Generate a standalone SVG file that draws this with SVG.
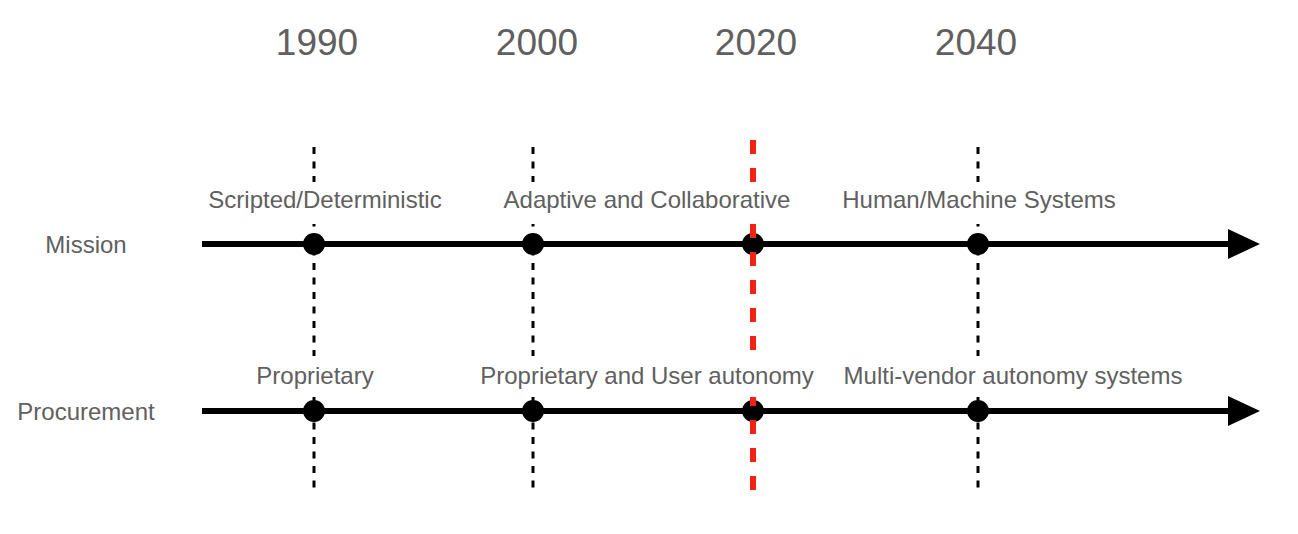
<svg xmlns="http://www.w3.org/2000/svg" width="1298" height="534" viewBox="0 0 1298 534">
  <style>
    .lbl { font-family: "Liberation Sans", Arial, Helvetica, sans-serif; fill: #606060; text-anchor: middle; }
    .year { font-size: 37px; }
    .txt { font-size: 24px; }
    .axis { stroke: #000; stroke-width: 6; fill: none; }
    .vline { stroke: #000; stroke-width: 3; stroke-dasharray: 7 7.5; fill: none; }
    .now { stroke: #f02314; stroke-width: 6; stroke-dasharray: 14 14; fill: none; }
    .dot { fill: #000; }
    .bg { fill: #fff; }
  </style>
  <defs>
    <marker id="arrow" markerUnits="userSpaceOnUse" markerWidth="32" markerHeight="30" refX="4" refY="15" orient="auto">
      <path d="M0,0 L32,15 L0,30 Z" fill="#000"/>
    </marker>
  </defs>
  <rect width="1298" height="534" fill="#fff"/>

  <g id="years">
    <text id="y1990" class="lbl year" x="317" y="55">1990</text>
    <text id="y2000" class="lbl year" x="537" y="55">2000</text>
    <text id="y2020" class="lbl year" x="756" y="55">2020</text>
    <text id="y2040" class="lbl year" x="976" y="55">2040</text>
  </g>

  <g id="row-labels">
    <text id="mission" class="lbl txt" x="86" y="253">Mission</text>
    <text id="procurement" class="lbl txt" x="86" y="420">Procurement</text>
  </g>

  <g id="connectors">
    <line class="axis" x1="202" y1="244" x2="1232" y2="244" marker-end="url(#arrow)"/>
    <line class="axis" x1="202" y1="411" x2="1232" y2="411" marker-end="url(#arrow)"/>
    <line class="vline" x1="314" y1="147" x2="314" y2="490"/>
    <line class="vline" x1="533" y1="147" x2="533" y2="490"/>
    <line class="vline" x1="978" y1="147" x2="978" y2="490"/>
  </g>

  <g id="milestones">
    <circle id="m-1990" class="dot" cx="314" cy="244" r="11"/>
    <circle id="m-2000" class="dot" cx="533" cy="244" r="11"/>
    <circle id="m-2020" class="dot" cx="753" cy="244" r="11"/>
    <circle id="m-2040" class="dot" cx="978" cy="244" r="11"/>
    <circle id="p-1990" class="dot" cx="314" cy="411" r="11"/>
    <circle id="p-2000" class="dot" cx="533" cy="411" r="11"/>
    <circle id="p-2020" class="dot" cx="753" cy="411" r="11"/>
    <circle id="p-2040" class="dot" cx="978" cy="411" r="11"/>
  </g>

  <g id="now-marker">
    <line class="now" x1="753" y1="140" x2="753" y2="490"/>
  </g>

  <g id="mission-1990">
    <rect class="bg" x="205" y="182" width="240" height="42"/>
    <text class="lbl txt" x="325" y="208">Scripted/Deterministic</text>
  </g>
  <g id="mission-2000">
    <rect class="bg" x="500" y="182" width="294" height="42"/>
    <text class="lbl txt" x="647" y="208">Adaptive and Collaborative</text>
  </g>
  <g id="mission-2040">
    <rect class="bg" x="840" y="182" width="279" height="42"/>
    <text class="lbl txt" x="979" y="208">Human/Machine Systems</text>
  </g>
  <g id="procurement-1990">
    <rect class="bg" x="255" y="356" width="120" height="41"/>
    <text class="lbl txt" x="315" y="384">Proprietary</text>
  </g>
  <g id="procurement-2000">
    <rect class="bg" x="478" y="356" width="339" height="41"/>
    <text class="lbl txt" x="647" y="384">Proprietary and User autonomy</text>
  </g>
  <g id="procurement-2040">
    <rect class="bg" x="839" y="356" width="349" height="41"/>
    <text class="lbl txt" x="1013" y="384">Multi-vendor autonomy systems</text>
  </g>
</svg>
